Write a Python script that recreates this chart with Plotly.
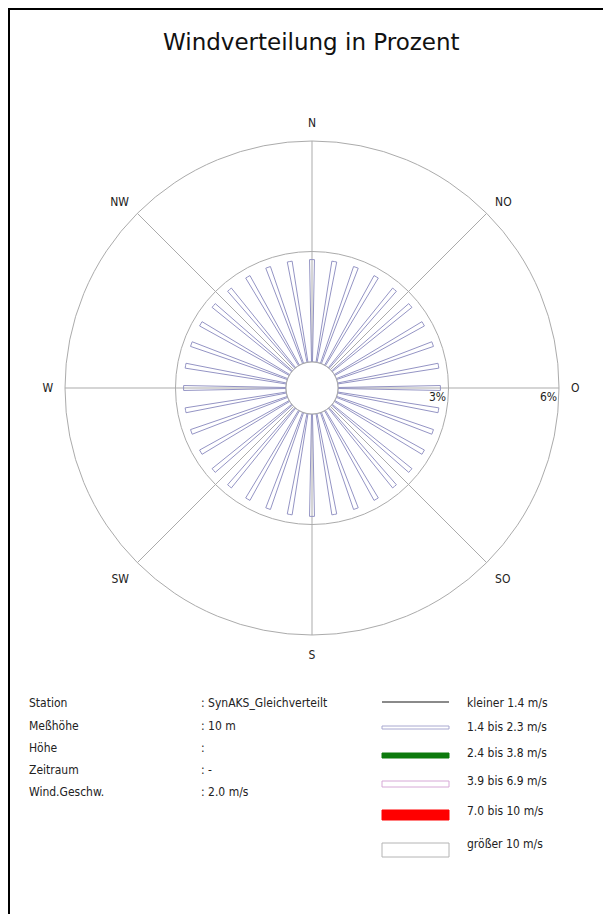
import plotly.graph_objects as go

# ---- data ----
directions_deg = [0, 10, 20, 30, 40, 50, 60, 70, 80, 90, 100, 110,
                  120, 130, 140, 150, 160, 170, 180, 190, 200, 210, 220, 230,
                  240, 250, 260, 270, 280, 290, 300, 310, 320, 330, 340, 350]
share_1_4_to_2_3 = [2.78, 2.78, 2.78, 2.78, 2.78, 2.78, 2.78, 2.78, 2.78, 2.78, 2.78, 2.78,
                    2.78, 2.78, 2.78, 2.78, 2.78, 2.78, 2.78, 2.78, 2.78, 2.78, 2.78, 2.78,
                    2.78, 2.78, 2.78, 2.78, 2.78, 2.78, 2.78, 2.78, 2.78, 2.78, 2.78, 2.78]
compass_vals = [0, 45, 90, 135, 180, 225, 270, 315]
compass_text = ["N", "NO", "O", "SO", "S", "SW", "W", "NW"]
radial_ticks = [3, 6]
radial_labels = ["3%", "6%"]
calm_circle_theta = list(range(0, 361, 5))

info_labels = ["Station", "Meßhöhe", "Höhe", "Zeitraum", "Wind.Geschw."]
info_values = [": SynAKS_Gleichverteilt", ": 10 m", ":", ": -", ": 2.0 m/s"]
legend_labels = ["kleiner 1.4 m/s", "1.4 bis 2.3 m/s", "2.4 bis 3.8 m/s",
                 "3.9 bis 6.9 m/s", "7.0 bis 10 m/s", "größer 10 m/s"]

W, H = 603, 914
FONT = "DejaVu Sans Condensed, DejaVu Sans, sans-serif"
GRID = "#ababab"
BAR = "#9494c4"


def px_x(x):
    return x / W


def px_y(y):
    return 1 - y / H


fig = go.Figure()

fig.add_trace(go.Barpolar(
    r=share_1_4_to_2_3, theta=directions_deg, width=2.2,
    marker=dict(color="rgba(255,255,255,0)", line=dict(color=BAR, width=1)),
    showlegend=False, hoverinfo="skip",
))

fig.add_trace(go.Scatterpolar(
    r=[0] * len(calm_circle_theta), theta=calm_circle_theta, mode="lines",
    line=dict(color="#8c8cb4", width=1), showlegend=False, hoverinfo="skip",
))

cx, cy, R = 312, 388, 247
fig.update_layout(
    width=W, height=H,
    margin=dict(l=0, r=0, t=0, b=0),
    paper_bgcolor="white", plot_bgcolor="white",
    showlegend=False,
    polar=dict(
        domain=dict(x=[px_x(cx - R), px_x(cx + R)], y=[px_y(cy + R), px_y(cy - R)]),
        hole=26 / 247,
        bgcolor="white",
        radialaxis=dict(range=[0, 6], tickvals=radial_ticks, showticklabels=False,
                        ticks="", showline=False, gridcolor=GRID, gridwidth=1, angle=90),
        angularaxis=dict(rotation=90, direction="clockwise", tickmode="array",
                         tickvals=compass_vals, ticktext=compass_text,
                         ticks="outside", ticklen=9, tickcolor="rgba(0,0,0,0)",
                         showline=True, linecolor=GRID, linewidth=1,
                         gridcolor=GRID, gridwidth=1,
                         tickfont=dict(family=FONT, size=12, color="#222")),
    ),
)

annotations = [dict(text="Windverteilung in Prozent", x=px_x(311), y=px_y(42),
                    xref="paper", yref="paper", showarrow=False, xanchor="center",
                    yanchor="middle", font=dict(family="DejaVu Sans, sans-serif", size=23, color="#111"))]
# radial scale labels (3% / 6%), right-aligned to their rings just below the O axis
for lab, xr in zip(radial_labels, [448, 559]):
    annotations.append(dict(text=lab, x=px_x(xr), y=px_y(397), xref="paper", yref="paper",
                            showarrow=False, xanchor="right", yanchor="middle",
                            font=dict(family=FONT, size=12, color="#222")))
info_y = [703, 726, 748, 770, 792]
for lab, val, yy in zip(info_labels, info_values, info_y):
    annotations.append(dict(text=lab, x=px_x(27), y=px_y(yy), xref="paper", yref="paper",
                            showarrow=False, xanchor="left", yanchor="middle",
                            font=dict(family=FONT, size=12, color="#222")))
    annotations.append(dict(text=val, x=px_x(199), y=px_y(yy), xref="paper", yref="paper",
                            showarrow=False, xanchor="left", yanchor="middle",
                            font=dict(family=FONT, size=12, color="#222")))
leg_text_y = [703, 727, 753, 781, 811, 844]
for lab, yy in zip(legend_labels, leg_text_y):
    annotations.append(dict(text=lab, x=px_x(465), y=px_y(yy), xref="paper", yref="paper",
                            showarrow=False, xanchor="left", yanchor="middle",
                            font=dict(family=FONT, size=12, color="#222")))

x0, x1 = px_x(382), px_x(449)
shapes = [
    # page frame
    dict(type="rect", xref="paper", yref="paper", x0=px_x(9), x1=1.05,
         y0=-0.05, y1=px_y(9), line=dict(color="black", width=2)),
    # legend samples
    dict(type="line", xref="paper", yref="paper", x0=x0, x1=x1, y0=px_y(702), y1=px_y(702),
         line=dict(color="#8a8a8a", width=2)),
    dict(type="rect", xref="paper", yref="paper", x0=x0, x1=x1, y0=px_y(729), y1=px_y(726),
         line=dict(color="#a8a8d0", width=1), fillcolor="white"),
    dict(type="rect", xref="paper", yref="paper", x0=x0, x1=x1, y0=px_y(758), y1=px_y(753),
         line=dict(color="#0d7a0d", width=1), fillcolor="#0d7a0d"),
    dict(type="rect", xref="paper", yref="paper", x0=x0, x1=x1, y0=px_y(787), y1=px_y(781),
         line=dict(color="#d6a8d6", width=1), fillcolor="white"),
    dict(type="rect", xref="paper", yref="paper", x0=x0, x1=x1, y0=px_y(820), y1=px_y(810),
         line=dict(color="#ff0000", width=1), fillcolor="#ff0000"),
    dict(type="rect", xref="paper", yref="paper", x0=x0, x1=x1, y0=px_y(857), y1=px_y(843),
         line=dict(color="#b4b4b4", width=1), fillcolor="white"),
]
fig.update_layout(annotations=annotations, shapes=shapes)

fig.write_html("out.html")
